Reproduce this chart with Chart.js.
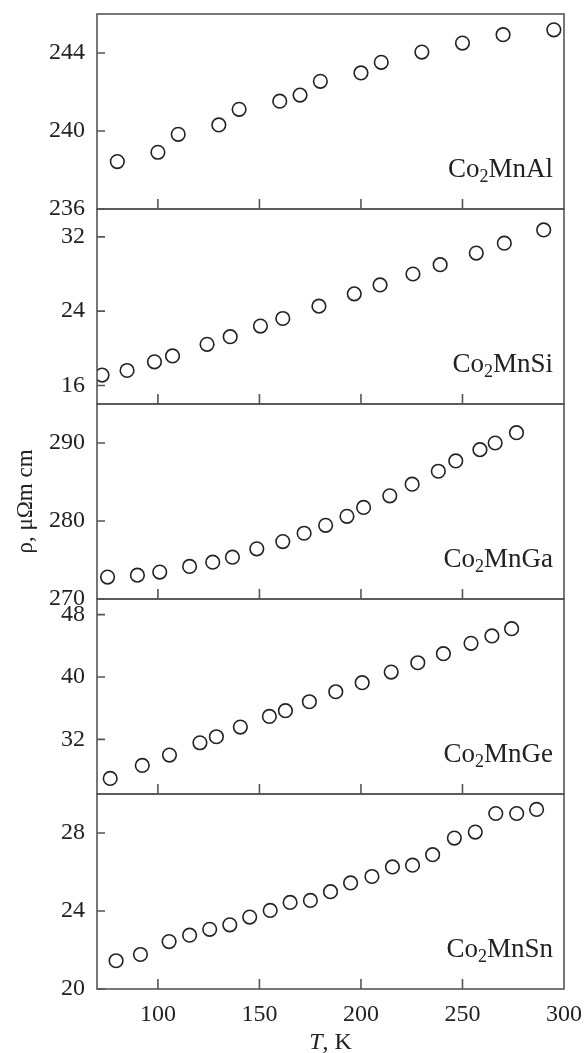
<!DOCTYPE html>
<html>
<head>
<meta charset="utf-8">
<script src="https://cdn.jsdelivr.net/npm/chart.js@4.4.1/dist/chart.umd.min.js"></script>
<style>
  html, body { margin: 0; padding: 0; background: #fff; }
</style>
</head>
<body>
<canvas id="chart" width="585" height="1053"></canvas>
<script>
// temperature (K) and resistivity (uOhm cm)
const alT = [80, 100, 110, 130, 140, 160, 170, 180, 200, 210, 230, 250, 270, 295];
const alRho = [238.43, 238.91, 239.83, 240.31, 241.11, 241.53, 241.84, 242.55, 242.98, 243.52, 244.05, 244.51, 244.94, 245.19];

const siT = [72.5, 84.8, 98.3, 107.2, 124.2, 135.6, 150.5, 161.5, 179.3, 196.7, 209.4, 225.6, 239, 256.8, 270.6, 290];
const siRho = [17.11, 17.61, 18.54, 19.18, 20.43, 21.25, 22.39, 23.21, 24.54, 25.86, 26.82, 28.0, 29.0, 30.25, 31.32, 32.75];

const gaT = [75.2, 89.9, 100.9, 115.6, 127, 136.7, 148.7, 161.5, 172, 182.6, 193.1, 201.3, 214.2, 225.2, 238.1, 246.7, 258.6, 266.1, 276.6];
const gaRho = [272.81, 273.06, 273.45, 274.17, 274.72, 275.36, 276.43, 277.36, 278.43, 279.45, 280.6, 281.74, 283.23, 284.72, 286.38, 287.7, 289.15, 290.0, 291.32];

const geT = [76.5, 92.3, 105.7, 120.7, 128.8, 140.6, 154.9, 162.8, 174.6, 187.6, 200.6, 214.9, 228, 240.6, 254.2, 264.5, 274.2];
const geRho = [27.0, 28.66, 29.99, 31.57, 32.34, 33.58, 34.95, 35.68, 36.83, 38.11, 39.27, 40.63, 41.83, 42.99, 44.32, 45.26, 46.2];

const snT = [79.4, 91.4, 105.5, 115.6, 125.5, 135.4, 145.2, 155.3, 165.1, 175.1, 185, 194.9, 205.4, 215.5, 225.4, 235.3, 246, 256.3, 266.4, 276.7, 286.5];
const snRho = [21.45, 21.77, 22.43, 22.76, 23.06, 23.29, 23.69, 24.03, 24.44, 24.54, 24.99, 25.44, 25.77, 26.26, 26.35, 26.89, 27.74, 28.05, 29.0, 29.0, 29.21];

// compounds, top to bottom: [before subscript, subscript, after]
const compounds = [["Co", "2", "MnAl"], ["Co", "2", "MnSi"], ["Co", "2", "MnGa"], ["Co", "2", "MnGe"], ["Co", "2", "MnSn"]];
const xTicks = [100, 150, 200, 250, 300];
const xTickMarks = [100, 150, 200, 250];
const yRanges = [[236, 246], [14, 35], [270, 295], [25, 50], [20, 30]];
const yTicks = [[236, 240, 244], [16, 24, 32], [270, 280, 290], [32, 40, 48], [20, 24, 28]];

const seriesT = [alT, siT, gaT, geT, snT];
const seriesRho = [alRho, siRho, gaRho, geRho, snRho];
const panelIds = ["yAl", "ySi", "yGa", "yGe", "ySn"];

const serif = "'Liberation Serif', 'Times New Roman', serif";
const ink = "#222";
const frameColor = "#555";

Chart.defaults.font.family = serif;
Chart.defaults.color = ink;

// no extra room for labels that stick out past the plot edges
function noPadding(scale) {
  scale.paddingTop = 0;
  scale.paddingBottom = 0;
  scale.paddingLeft = 0;
  scale.paddingRight = 0;
}

let datasets = [];
seriesT.forEach((ts, i) => {
  datasets.push({
    label: compounds[i].join(""),
    data: ts.map((t, k) => ({ x: t, y: seriesRho[i][k] })),
    yAxisID: panelIds[i],
    showLine: false,
    pointStyle: "circle",
    pointRadius: 6.8,
    pointBorderWidth: 1.6,
    pointBorderColor: ink,
    pointBackgroundColor: "rgba(0,0,0,0)",
  });
});

let scales = {
  x: {
    type: "linear",
    min: 70,
    max: 300,
    grid: { display: false },
    border: { display: false },
    ticks: { font: { size: 24 }, color: ink, padding: 3, maxRotation: 0 },
    afterBuildTicks: (scale) => {
      scale.ticks = xTicks.map((v) => ({ value: v }));
    },
    afterFit: (scale) => {
      scale.height = 64;
      noPadding(scale);
    },
  },
};

panelIds.forEach((id, i) => {
  scales[id] = {
    type: "linear",
    position: "left",
    stack: "panels",
    stackWeight: 1,
    weight: 5 - i,
    offset: false,
    min: yRanges[i][0],
    max: yRanges[i][1],
    grid: { display: false },
    border: { display: false },
    ticks: { font: { size: 24 }, color: ink, padding: 4 },
    title: {
      display: id === "yGa",
      text: "ρ, μΩm cm",
      font: { size: 23 },
      color: ink,
      padding: { top: 12, bottom: 0 },
    },
    afterBuildTicks: (scale) => {
      scale.ticks = yTicks[i].map((v) => ({ value: v }));
    },
    afterFit: (scale) => {
      scale.width = 97;
      noPadding(scale);
    },
  };
});

const framePlugin = {
  id: "frames",
  afterDraw(chart) {
    const ctx = chart.ctx;
    const area = chart.chartArea;
    const xs = chart.scales.x;
    ctx.save();
    panelIds.forEach((id, i) => {
      const ys = chart.scales[id];
      ctx.strokeStyle = frameColor;
      ctx.lineWidth = 1.6;
      ctx.strokeRect(area.left, ys.top, area.right - area.left, ys.bottom - ys.top);

      ctx.beginPath();
      ys.ticks.forEach((t) => {
        const y = ys.getPixelForValue(t.value);
        ctx.moveTo(area.left, y);
        ctx.lineTo(area.left + 8, y);
      });
      xTickMarks.forEach((v) => {
        const x = xs.getPixelForValue(v);
        ctx.moveTo(x, ys.bottom);
        ctx.lineTo(x, ys.bottom - 10);
      });
      ctx.stroke();

      // compound name with subscript
      const [a, sub, b] = compounds[i];
      ctx.fillStyle = ink;
      ctx.textBaseline = "alphabetic";
      ctx.textAlign = "left";
      ctx.font = "27px " + serif;
      const wa = ctx.measureText(a).width;
      const wb = ctx.measureText(b).width;
      ctx.font = "18px " + serif;
      const ws = ctx.measureText(sub).width;
      const right = area.right - 11;
      const base = ys.bottom - 32;
      let x0 = right - (wa + ws + wb);
      ctx.font = "27px " + serif;
      ctx.fillText(a, x0, base);
      ctx.font = "18px " + serif;
      ctx.fillText(sub, x0 + wa, base + 5);
      ctx.font = "27px " + serif;
      ctx.fillText(b, x0 + wa + ws, base);
    });

    // x axis title: italic T
    ctx.fillStyle = ink;
    ctx.textBaseline = "alphabetic";
    ctx.textAlign = "left";
    ctx.font = "italic 24px " + serif;
    const wT = ctx.measureText("T").width;
    ctx.font = "24px " + serif;
    const wRest = ctx.measureText(", K").width;
    const cx = (area.left + area.right) / 2;
    const sx = cx - (wT + wRest) / 2;
    ctx.font = "italic 24px " + serif;
    ctx.fillText("T", sx, 1049);
    ctx.font = "24px " + serif;
    ctx.fillText(", K", sx + wT, 1049);
    ctx.restore();
  },
};

let ctx = document.getElementById("chart").getContext("2d");
new Chart(ctx, {
  type: "scatter",
  data: { datasets: datasets },
  options: {
    responsive: false,
    animation: false,
    layout: { padding: { top: 14, right: 21, left: 0, bottom: 0 } },
    plugins: { legend: { display: false }, tooltip: { enabled: false } },
    scales: scales,
  },
  plugins: [framePlugin],
});
</script>
</body>
</html>
